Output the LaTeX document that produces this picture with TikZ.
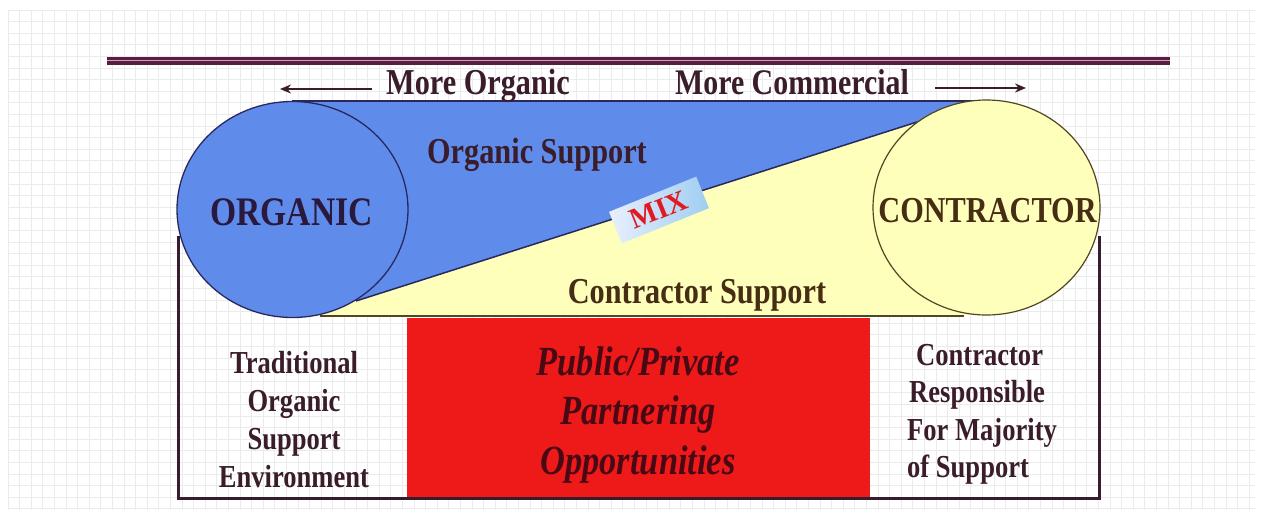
\documentclass[tikz,border=0pt]{standalone}
\usepackage{fontspec}
\newfontfamily\tnr[FakeStretch=0.83]{Liberation Serif}
\newfontfamily\tnrw{Liberation Serif}
\usetikzlibrary{arrows.meta,shapes.geometric}
\definecolor{blueF}{RGB}{95,140,235}
\definecolor{yelF}{RGB}{255,255,188}
\definecolor{redF}{RGB}{238,26,26}
\definecolor{txtC}{RGB}{58,28,42}
\definecolor{navyC}{RGB}{40,40,95}
\definecolor{oliveC}{RGB}{80,70,35}
\definecolor{frameC}{RGB}{55,28,45}
\definecolor{lineC}{RGB}{88,30,62}
\definecolor{lineP}{RGB}{205,160,195}
\definecolor{gridC}{RGB}{235,235,235}
\definecolor{orgT}{RGB}{42,25,60}
\definecolor{conT}{RGB}{70,45,20}
\definecolor{pppT}{RGB}{72,8,20}
\definecolor{mixC}{RGB}{225,25,35}
\definecolor{mixL}{RGB}{232,240,252}
\definecolor{mixR}{RGB}{160,205,242}
\begin{document}
\begin{tikzpicture}[x=1pt,y=-1pt,
  txtf/.style={font=\tnr\bfseries\fontsize{#1}{#1}\selectfont, text=txtC, anchor=base, inner sep=0pt},
  itf/.style={font=\tnr\bfseries\itshape\fontsize{#1}{#1}\selectfont, text=pppT, anchor=base, inner sep=0pt},
  arr/.style={-{Stealth[length=11pt,width=9pt]}, line width=2pt, draw=txtC},
  gridline/.style={draw=gridC, line width=0.8pt}
]
\useasboundingbox (0,0) rectangle (1261,517);
\fill[white] (0,0) rectangle (1261,517);
% background grid
\foreach \gx in {8,19.6,...,1256} \draw[gridline] (\gx,10) -- (\gx,510);
\foreach \gy in {10,21.6,...,511} \draw[gridline] (8,\gy) -- (1255,\gy);

% top double rule
\coordinate (tl1) at (107,61);
\coordinate (tl2) at (1170,61);
\draw[lineC, line width=7.5pt] (tl1) -- (tl2);
\draw[lineP, line width=1pt] ([yshift=1pt]tl1) -- ([yshift=1pt]tl2);

% direction arrows
\coordinate (aL0) at (372,89);
\coordinate (aL1) at (280,89);
\coordinate (aR0) at (935,88);
\coordinate (aR1) at (1026,88);
\draw[arr] (aL0) -- (aL1);
\draw[arr] (aR0) -- (aR1);

% blue / yellow wedge regions
\coordinate (dR) at (917,122);
\coordinate (dL) at (356,301);
\fill[blueF] (292,101) -- (986,101) -- (dR) -- (dL) -- (292,300) -- cycle;
\fill[yelF] (dR) -- (986,110) -- (986,315) -- (300,316) -- (dL) -- cycle;
\draw[navyC, line width=1.5pt] (292,101) -- (986,101);
\draw[navyC, line width=1.5pt] (dR) -- (dL);
\draw[oliveC, line width=1.2pt] (320,316) -- (964,316);

% red partnering block
\node[fill=redF, minimum width=463pt, minimum height=179pt, inner sep=0pt, anchor=north west] (ppp) at (407,318) {};

% outer frame
\draw[frameC, line width=3pt] (178,236) -- (178,498) -- (1099,498) -- (1099,236);

% circles
\node[ellipse, draw=navyC, line width=1.3pt, fill=blueF, minimum width=231pt, minimum height=216pt, inner sep=0pt] (orgC) at (292.5,209.5) {};
\node[ellipse, draw=oliveC, line width=1.2pt, fill=yelF, minimum width=227pt, minimum height=215pt, inner sep=0pt] (conC) at (986.5,207.5) {};

% MIX label
\node[rotate=22, minimum width=94pt, minimum height=34pt, inner sep=0pt, left color=mixL, right color=mixR,
      font=\tnrw\bfseries\fontsize{29}{29}\selectfont, text=mixC] (mix) at (659,210) {MIX};

% texts
\node[txtf=36.5] (mo) at (478,94) {More Organic};
\node[txtf=36] (mc) at (792,94) {More Commercial};
\node[txtf=36.5] (os) at (537,163) {Organic Support};
\node[txtf=40.5, text=orgT] (orgT) at (291.5,225) {ORGANIC};
\node[txtf=36.5, text=conT] (conT) at (987.5,222) {CONTRACTOR};
\node[txtf=36.5, text=conT] (cs) at (697,303) {Contractor Support};

\foreach \t [count=\i] in {Traditional,Organic,Support,Environment}
  \node[txtf=32] (lt\i) at (294,{373+38*(\i-1)}) {\t};

\foreach \t [count=\i] in {Public/Private,Partnering,Opportunities}
  \node[itf=41.5] (pt\i) at (638,{375+49.5*(\i-1)}) {\t};

\node[txtf=32, anchor=base west] (rt1) at (916,365) {Contractor};
\node[txtf=32, anchor=base west] (rt2) at (909,402) {Responsible};
\node[txtf=32, anchor=base west] (rt3) at (907,440) {For Majority};
\node[txtf=32, anchor=base west] (rt4) at (907,477) {of Support};
\end{tikzpicture}
\end{document}
